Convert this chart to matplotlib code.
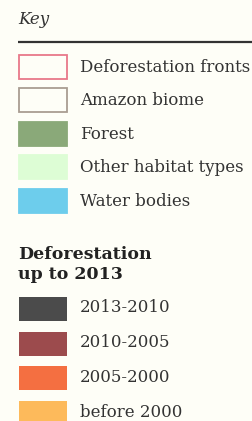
#!/usr/bin/env python3
"""Map key for the Amazon deforestation map, drawn as a standalone legend."""

import matplotlib
matplotlib.use("Agg")
import matplotlib.pyplot as plt
from matplotlib.patches import Rectangle

KEY_LABELS = [
    "Deforestation fronts",
    "Amazon biome",
    "Forest",
    "Other habitat types",
    "Water bodies",
]
KEY_FACE = ["none", "none", "#8aa979", "#ddfdd5", "#6dcdec"]
KEY_EDGE = ["#e8798a", "#a99d92", "#8aa979", "#ddfdd5", "#6dcdec"]

PERIOD_TITLE = "Deforestation\nup to 2013"
PERIOD_LABELS = ["2013-2010", "2010-2005", "2005-2000", "before 2000"]
PERIOD_COLORS = ["#4b4b4b", "#9c4b4d", "#f46f41", "#fdba5b"]

BG = "#fefef7"
TEXT = "#333333"
FONT = "DejaVu Serif"

W, H = 252, 421
fig = plt.figure(figsize=(W / 100, H / 100), dpi=100, facecolor=BG)
ax = fig.add_axes([0, 0, 1, 1])
ax.set_xlim(0, W)
ax.set_ylim(H, 0)
ax.axis("off")
ax.set_facecolor(BG)

x0, sw, sh = 18.5, 48, 24
step = 33.6
text_x = 80
fs = 12

ax.text(x0, 20, "Key", fontsize=12, style="italic", family=FONT,
        color=TEXT, va="center", ha="left")
ax.plot([x0 - 0.5, W], [42, 42], color="#333333", lw=1.6, solid_capstyle="butt")

for i, (label, face, edge) in enumerate(zip(KEY_LABELS, KEY_FACE, KEY_EDGE)):
    top = 54.5 + i * step
    ax.add_patch(Rectangle((x0, top), sw, sh, facecolor=face, edgecolor=edge, lw=1.3))
    ax.text(text_x, top + sh / 2 + 0.5, label, fontsize=fs, family=FONT,
            color=TEXT, va="center", ha="left")

ax.text(x0 - 0.5, 264.5, PERIOD_TITLE, fontsize=12.5, fontweight="bold", family=FONT,
        color="#222222", va="center", ha="left", linespacing=1.25)

for i, (label, color) in enumerate(zip(PERIOD_LABELS, PERIOD_COLORS)):
    top = 297 + i * 34.7
    ax.add_patch(Rectangle((x0, top), sw, sh, facecolor=color, edgecolor="none"))
    ax.text(text_x, top + sh / 2 - 1, label, fontsize=fs, family=FONT,
            color=TEXT, va="center", ha="left")

fig.savefig("out.png", dpi=100, facecolor=BG)
